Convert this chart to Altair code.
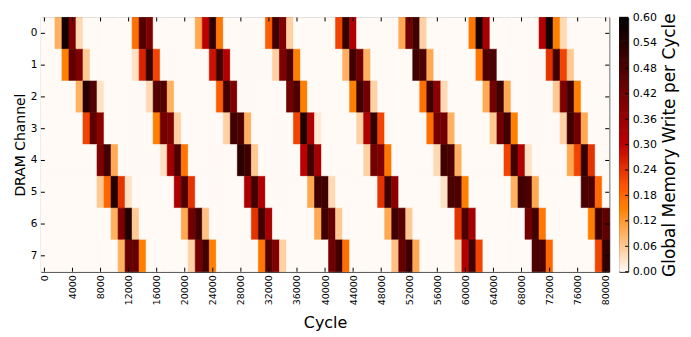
import altair as alt
import pandas as pd
import numpy as np

CHANNELS = list(range(8))
N_BINS = 81
BIN_CYCLES = 1000
X_TICKS = list(range(0, 80001, 4000))
CB_TICKS = [round(0.06 * i, 2) for i in range(11)]

CH0_BINS = [2, 3, 4, 5, 13, 14, 15, 22, 23, 24, 25, 32, 33, 34, 35, 42, 43, 44, 51, 52, 53, 54, 61, 62, 63, 71, 72, 73, 74]
CH0_VALS = [0.09, 0.57, 0.40, 0.04, 0.17, 0.47, 0.40, 0.10, 0.30, 0.52, 0.16, 0.19, 0.50, 0.40, 0.05, 0.22, 0.52, 0.32, 0.10, 0.42, 0.50, 0.05, 0.16, 0.56, 0.34, 0.32, 0.57, 0.15, 0.04]

CH1_BINS = [3, 4, 5, 6, 13, 14, 15, 16, 24, 25, 26, 33, 34, 35, 36, 43, 44, 45, 46, 53, 54, 55, 62, 63, 64, 72, 73, 74, 75]
CH1_VALS = [0.15, 0.45, 0.40, 0.06, 0.03, 0.26, 0.52, 0.22, 0.28, 0.50, 0.32, 0.05, 0.40, 0.48, 0.15, 0.09, 0.50, 0.42, 0.09, 0.50, 0.48, 0.10, 0.16, 0.48, 0.48, 0.24, 0.50, 0.22, 0.06]

CH2_BINS = [5, 6, 7, 8, 15, 16, 17, 18, 25, 26, 27, 35, 36, 37, 44, 45, 46, 47, 54, 55, 56, 57, 63, 64, 65, 66, 73, 74, 75, 76]
CH2_VALS = [0.09, 0.54, 0.47, 0.03, 0.04, 0.47, 0.47, 0.09, 0.19, 0.50, 0.40, 0.42, 0.48, 0.15, 0.15, 0.50, 0.42, 0.05, 0.17, 0.50, 0.38, 0.04, 0.10, 0.42, 0.50, 0.10, 0.06, 0.40, 0.50, 0.15]

CH3_BINS = [6, 7, 8, 16, 17, 18, 19, 26, 27, 28, 29, 36, 37, 38, 39, 45, 46, 47, 48, 55, 56, 57, 58, 64, 65, 66, 67, 74, 75, 76, 77]
CH3_VALS = [0.22, 0.45, 0.38, 0.15, 0.42, 0.40, 0.05, 0.05, 0.50, 0.48, 0.09, 0.22, 0.55, 0.32, 0.02, 0.05, 0.32, 0.52, 0.22, 0.17, 0.42, 0.42, 0.09, 0.06, 0.42, 0.50, 0.15, 0.05, 0.50, 0.42, 0.10]

CH4_BINS = [8, 9, 10, 17, 18, 19, 20, 28, 29, 30, 37, 38, 39, 46, 47, 48, 49, 56, 57, 58, 59, 66, 67, 68, 69, 75, 76, 77, 78]
CH4_VALS = [0.40, 0.50, 0.10, 0.03, 0.34, 0.48, 0.16, 0.53, 0.50, 0.06, 0.30, 0.50, 0.34, 0.05, 0.42, 0.40, 0.16, 0.04, 0.50, 0.48, 0.09, 0.22, 0.50, 0.32, 0.03, 0.10, 0.22, 0.52, 0.24]

CH5_BINS = [8, 9, 10, 11, 12, 19, 20, 21, 29, 30, 31, 38, 39, 40, 41, 48, 49, 50, 57, 58, 59, 60, 67, 68, 69, 70, 77, 78, 79]
CH5_VALS = [0.06, 0.18, 0.55, 0.24, 0.03, 0.33, 0.48, 0.24, 0.33, 0.50, 0.32, 0.10, 0.50, 0.50, 0.04, 0.24, 0.50, 0.38, 0.03, 0.48, 0.48, 0.15, 0.09, 0.50, 0.48, 0.10, 0.48, 0.48, 0.18]

CH6_BINS = [10, 11, 12, 13, 20, 21, 22, 23, 30, 31, 32, 39, 40, 41, 42, 49, 50, 51, 52, 59, 60, 61, 69, 70, 71, 78, 79, 80]
CH6_VALS = [0.09, 0.40, 0.55, 0.06, 0.10, 0.42, 0.50, 0.07, 0.24, 0.50, 0.34, 0.10, 0.50, 0.44, 0.06, 0.10, 0.50, 0.46, 0.06, 0.24, 0.48, 0.34, 0.42, 0.50, 0.16, 0.15, 0.50, 0.45]

CH7_BINS = [11, 12, 13, 14, 21, 22, 23, 24, 31, 32, 33, 34, 41, 42, 43, 50, 51, 52, 53, 59, 60, 61, 62, 70, 71, 72, 79, 80]
CH7_VALS = [0.09, 0.44, 0.44, 0.15, 0.05, 0.42, 0.50, 0.15, 0.16, 0.47, 0.40, 0.05, 0.42, 0.50, 0.17, 0.07, 0.44, 0.50, 0.10, 0.05, 0.32, 0.50, 0.22, 0.48, 0.48, 0.18, 0.22, 0.52]

BINS = [CH0_BINS, CH1_BINS, CH2_BINS, CH3_BINS, CH4_BINS, CH5_BINS, CH6_BINS, CH7_BINS]
VALS = [CH0_VALS, CH1_VALS, CH2_VALS, CH3_VALS, CH4_VALS, CH5_VALS, CH6_VALS, CH7_VALS]

rows = []
for c in CHANNELS:
    lookup = dict(zip(BINS[c], VALS[c]))
    for k in range(N_BINS):
        rows.append({
            "channel": c,
            "x0": k * BIN_CYCLES - BIN_CYCLES / 2,
            "x1": k * BIN_CYCLES + BIN_CYCLES / 2,
            "value": lookup.get(k, 0.0),
        })
df = pd.DataFrame(rows)

FONT = "DejaVu Sans"
W, H = 570, 255
TICK = 4

color_scale = alt.Scale(
    domain=[0, 0.15, 0.2, 0.3, 0.6],
    range=["#fffaf5", "#ff8000", "#ff5500", "#bf0000", "#000000"],
    interpolate="rgb",
    clamp=True,
)
xscale = alt.Scale(domain=[-BIN_CYCLES / 2, 80000 + BIN_CYCLES / 2], nice=False, zero=False)
yscale = alt.Scale(domain=CHANNELS, paddingInner=0, paddingOuter=0)

x_axis = alt.Axis(values=X_TICKS, labelAngle=270, format="d", title="Cycle",
                  ticks=False, labelPadding=3, grid=False, domain=False,
                  labelFontSize=9.5, titleFontSize=16, titlePadding=10,
                  labelFlush=False, labelOverlap=False)
y_axis = alt.Axis(title="DRAM Channel", labelAngle=0, ticks=False, labelPadding=4,
                  domain=False, grid=False, labelFontSize=10.5, titleFontSize=14,
                  titlePadding=3)

heat = alt.Chart(df).mark_rect(strokeWidth=0.6).encode(
    x=alt.X("x0:Q", scale=xscale, axis=x_axis),
    x2="x1:Q",
    y=alt.Y("channel:O", scale=yscale, axis=y_axis),
    color=alt.Color("value:Q", scale=color_scale, legend=None),
    stroke=alt.Stroke("value:Q", scale=color_scale, legend=None),
)

xt = pd.DataFrame({"x0": X_TICKS})
yt = pd.DataFrame({"channel": CHANNELS})
tick_bottom = alt.Chart(xt).mark_rule(color="black", strokeWidth=1).encode(
    x=alt.X("x0:Q", scale=xscale, axis=x_axis), y=alt.value(H), y2=alt.value(H - TICK))
tick_top = alt.Chart(xt).mark_rule(color="black", strokeWidth=1).encode(
    x=alt.X("x0:Q", scale=xscale, axis=x_axis), y=alt.value(0), y2=alt.value(TICK))
tick_left = alt.Chart(yt).mark_rule(color="black", strokeWidth=1).encode(
    y=alt.Y("channel:O", scale=yscale, axis=y_axis), x=alt.value(0), x2=alt.value(TICK))
tick_right = alt.Chart(yt).mark_rule(color="black", strokeWidth=1).encode(
    y=alt.Y("channel:O", scale=yscale, axis=y_axis), x=alt.value(W - TICK), x2=alt.value(W))

main = alt.layer(heat, tick_bottom, tick_top, tick_left, tick_right).properties(width=W, height=H)

lo = np.linspace(0, 0.6, 121)[:-1]
cb = pd.DataFrame({"lo": lo, "hi": lo + 0.0065, "value": lo + 0.0025})
cbscale = alt.Scale(domain=[0, 0.6], nice=False, zero=True)
cb_axis = alt.Axis(orient="right", values=CB_TICKS, format=".2f",
                   title="Global Memory Write per Cycle", titleAngle=270,
                   titleBaseline="top", ticks=False, labelPadding=4, domain=False,
                   grid=False, labelFontSize=11, titleFontSize=17, titlePadding=5)
cbar = alt.Chart(cb).mark_rect(strokeWidth=0).encode(
    y=alt.Y("lo:Q", scale=cbscale, axis=cb_axis),
    y2="hi:Q",
    x=alt.value(0), x2=alt.value(9),
    color=alt.Color("value:Q", scale=color_scale, legend=None),
)
cbt = pd.DataFrame({"lo": CB_TICKS})
cb_ticks = alt.Chart(cbt).mark_rule(color="black", strokeWidth=1).encode(
    y=alt.Y("lo:Q", scale=cbscale, axis=cb_axis), x=alt.value(6), x2=alt.value(9))
colorbar = alt.layer(cbar, cb_ticks).properties(width=9, height=H)

chart = alt.hconcat(main, colorbar, spacing=7).properties(
    padding={"left": 4, "top": 2, "right": 5, "bottom": 5}
).configure_view(stroke="black", strokeWidth=1).configure_axis(
    labelFont=FONT, titleFont=FONT, labelColor="black", titleColor="black",
    titleFontWeight="normal"
)

chart.save("out.html", embed_options={"renderer": "svg", "actions": False})
